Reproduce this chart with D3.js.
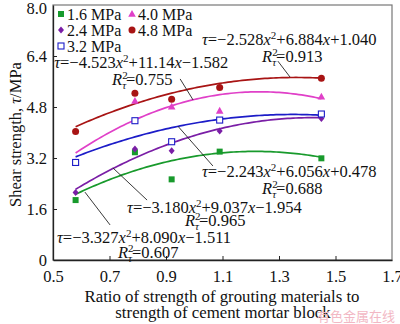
<!DOCTYPE html>
<html>
<head>
<meta charset="utf-8">
<script src="https://cdn.jsdelivr.net/npm/d3@7"></script>
<style>
  body { margin: 0; background: #fff; }
  svg { font-family: "Liberation Serif", "Times New Roman", serif; }
</style>
</head>
<body>
<div id="chart"></div>
<script>
// ratio of grouting strength to mortar block strength
const ratios = [0.58, 0.79, 0.92, 1.09, 1.45];

const seriesNames = ["1.6 MPa", "2.4 MPa", "3.2 MPa", "4.0 MPa", "4.8 MPa"];
const shear16 = [1.88, 3.38, 2.53, 3.40, 3.19];
const shear24 = [2.12, 3.48, 3.43, 4.05, 4.44];
const shear32 = [3.06, 4.37, 3.71, 4.39, 4.58];
const shear40 = [3.06, 4.99, 4.81, 4.68, 5.12];
const shear48 = [4.03, 5.23, 5.04, 5.41, 5.70];

// fitted quadratic coefficients [a, b, c] -> tau = a x^2 + b x + c
const fit16 = [-3.327, 8.090, -1.511];
const fit24 = [-3.180, 9.037, -1.954];
const fit32 = [-2.243, 6.056, 0.478];
const fit40 = [-4.523, 11.14, -1.582];
const fit48 = [-2.528, 6.884, 1.040];
const r2Vals = ["0.607", "0.965", "0.688", "0.755", "0.913"];

const xTicks = [0.5, 0.7, 0.9, 1.1, 1.3, 1.5, 1.7];
const yTicks = [0, 1.6, 3.2, 4.8, 6.4, 8.0];

const width = 400, height = 324;
const colors = ["#189a2c", "#7a1ea6", "#1c1cc8", "#e040c8", "#a81414"];
const shapes = ["square", "diamond", "opensquare", "triangle", "circle"];
const fs = 16.5;

const svg = d3.select("#chart").append("svg")
  .attr("width", width).attr("height", height);

const x = d3.scaleLinear().domain([0.5, 1.7]).range([53, 392]);
const y = d3.scaleLinear().domain([0, 8]).range([260, 5]);

// frame
svg.append("rect")
  .attr("x", x(0.5)).attr("y", y(8))
  .attr("width", x(1.7) - x(0.5)).attr("height", y(0) - y(8))
  .attr("fill", "none").attr("stroke", "#777").attr("stroke-width", 1.2);

const xAxis = svg.append("g").attr("transform", `translate(0,${y(0)})`)
  .call(d3.axisBottom(x).tickValues(xTicks).tickFormat(d3.format(".1f")).tickSizeInner(-4).tickSizeOuter(0).tickPadding(8));
const yAxis = svg.append("g").attr("transform", `translate(${x(0.5)},0)`)
  .call(d3.axisLeft(y).tickValues(yTicks).tickFormat(d => d === 0 ? "0" : d.toFixed(1)).tickSizeInner(-4).tickSizeOuter(0).tickPadding(6));
[xAxis, yAxis].forEach(g => {
  g.selectAll("text").attr("font-size", 16.5).attr("fill", "#111")
    .style("font-family", "'Liberation Serif', 'Times New Roman', serif");
  g.select(".domain").attr("stroke", "#222").attr("stroke-width", 1.3);
  g.selectAll(".tick line").attr("stroke", "#222");
});
xAxis.selectAll("text").attr("dy", "0.85em");
yAxis.selectAll("text").attr("dy", "0.36em");
yAxis.selectAll(".tick").filter(d => d === 8).select("text").attr("dy", "0.5em");
xAxis.selectAll(".tick").filter(d => d === 0.5 || d === 1.7).select("line").remove();
yAxis.selectAll(".tick").filter(d => d === 0 || d === 8).select("line").remove();

// axis titles
svg.append("text")
  .attr("transform", `translate(21,${(y(0) + y(8)) / 2 + 2}) rotate(-90)`)
  .attr("text-anchor", "middle").attr("font-size", fs).attr("fill", "#111")
  .html('Shear strength, <tspan font-style="italic">τ</tspan>/MPa');
svg.append("text").attr("x", 222).attr("y", 302)
  .attr("text-anchor", "middle").attr("font-size", 16.8).attr("fill", "#111")
  .text("Ratio of strength of grouting materials to");
svg.append("text").attr("x", 223).attr("y", 318)
  .attr("text-anchor", "middle").attr("font-size", 16.8).attr("fill", "#111")
  .text("strength of cement mortar block");

// fitted curves
const fits = [fit16, fit24, fit32, fit40, fit48];
const series = [shear16, shear24, shear32, shear40, shear48];
const xs = d3.range(ratios[0], ratios[ratios.length - 1] + 0.001, 0.01);
const line = d3.line().x(d => x(d[0])).y(d => y(d[1]));
fits.forEach((f, i) => {
  svg.append("path")
    .datum(xs.map(v => [v, f[0] * v * v + f[1] * v + f[2]]))
    .attr("d", line).attr("fill", "none")
    .attr("stroke", colors[i]).attr("stroke-width", 1.7);
});

function drawMarker(g, shape, color, cx, cy) {
  if (shape === "square") {
    g.append("rect").attr("x", cx - 3).attr("y", cy - 3).attr("width", 6).attr("height", 6).attr("fill", color);
  } else if (shape === "opensquare") {
    g.append("rect").attr("x", cx - 3).attr("y", cy - 3).attr("width", 6).attr("height", 6)
      .attr("fill", "#fff").attr("stroke", color).attr("stroke-width", 1.1);
  } else if (shape === "diamond") {
    g.append("path").attr("d", `M${cx},${cy - 3.5}L${cx + 3},${cy}L${cx},${cy + 3.5}L${cx - 3},${cy}Z`).attr("fill", color);
  } else if (shape === "triangle") {
    g.append("path").attr("d", `M${cx},${cy - 4}L${cx + 3.8},${cy + 2.8}L${cx - 3.8},${cy + 2.8}Z`).attr("fill", color);
  } else {
    g.append("circle").attr("cx", cx).attr("cy", cy).attr("r", 3.5).attr("fill", color);
  }
}

// data points (draw order so overlaps look like the reference)
const order = [0, 1, 3, 2, 4];
order.forEach(i => {
  const g = svg.append("g");
  series[i].forEach((v, j) => drawMarker(g, shapes[i], colors[i], x(ratios[j]), y(v)));
});

// legend
const legendItems = [
  { i: 0, col: 0, row: 0 }, { i: 3, col: 1, row: 0 },
  { i: 1, col: 0, row: 1 }, { i: 4, col: 1, row: 1 },
  { i: 2, col: 0, row: 2 }
];
legendItems.forEach(it => {
  const lx = 61 + it.col * 71, ly = 14 + it.row * 16;
  drawMarker(svg, shapes[it.i], colors[it.i], lx, ly);
  svg.append("text").attr("x", lx + 6).attr("y", ly + 5.5)
    .attr("font-size", 16).attr("fill", "#111").text(seriesNames[it.i]);
});

// equations and R^2 labels (positions in data units)
function eqHtml(f) {
  const num = v => (Math.abs(v) >= 10 ? Math.abs(v).toFixed(2) : Math.abs(v).toFixed(3));
  const sign = v => (v < 0 ? "−" : "+");
  return '<tspan font-style="italic">τ</tspan>=' + sign(f[0]) + num(f[0]) +
    '<tspan font-style="italic">x</tspan><tspan dy="-6" font-size="11">2</tspan>' +
    '<tspan dy="6">' + sign(f[1]) + num(f[1]) + '</tspan><tspan font-style="italic">x</tspan>' +
    sign(f[2]) + num(f[2]);
}
function r2Html(r) {
  return '<tspan font-style="italic">R</tspan><tspan dy="-6" font-size="11">2</tspan>' +
    '<tspan dx="-5.5" dy="10" font-size="11" font-style="italic">τ</tspan><tspan dy="-4">=' + r + '</tspan>';
}
const eqPos = [[0.514, 0.53], [0.762, 1.475], [1.027, 2.60], [0.504, 6.02], [1.027, 6.745]];
const r2Pos = [[0.730, 0.06], [0.967, 1.067], [1.240, 2.07], [0.709, 5.49], [1.240, 6.21]];
const leaders = [
  [[0.613, 2.13], [0.702, 1.10]],
  [[0.712, 2.89], [0.833, 1.88]],
  [[0.942, 4.20], [1.066, 2.95]],
  [[0.950, 5.68], [0.996, 5.02]],
  [[1.296, 6.24], [1.339, 5.74]]
];
fits.forEach((f, i) => {
  svg.append("text").attr("x", x(eqPos[i][0])).attr("y", y(eqPos[i][1]))
    .attr("font-size", fs).attr("fill", "#111").html(eqHtml(f));
  svg.append("text").attr("x", x(r2Pos[i][0])).attr("y", y(r2Pos[i][1]))
    .attr("font-size", fs).attr("fill", "#111").html(r2Html(r2Vals[i]));
  svg.append("line")
    .attr("x1", x(leaders[i][0][0])).attr("y1", y(leaders[i][0][1]))
    .attr("x2", x(leaders[i][1][0])).attr("y2", y(leaders[i][1][1]))
    .attr("stroke", "#222").attr("stroke-width", 0.9);
});

// watermark
svg.append("text").attr("x", 395).attr("y", 321).attr("text-anchor", "end")
  .attr("font-size", 13).attr("fill", "#f2b8c4")
  .style("font-family", "'Noto Sans CJK SC', sans-serif").text("有色金属在线");
</script>
</body>
</html>
